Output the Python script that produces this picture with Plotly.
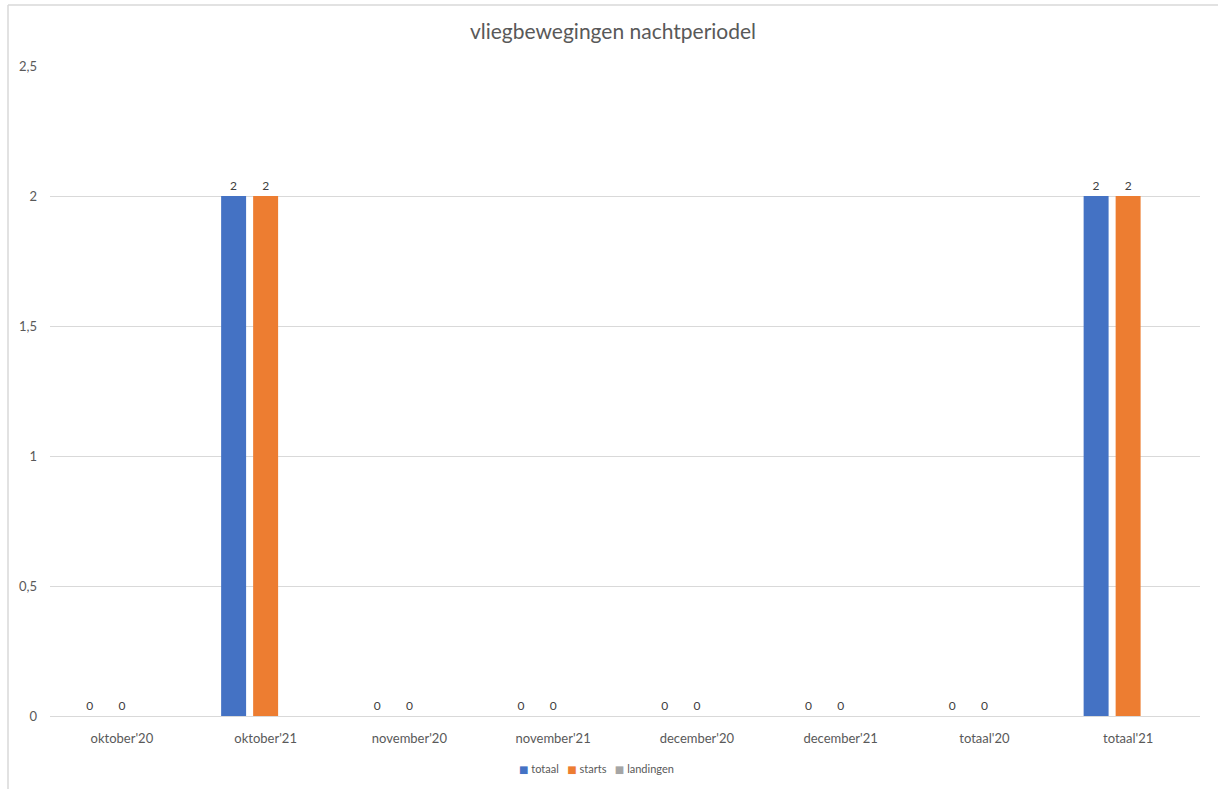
import plotly.graph_objects as go

categories = ["oktober'20", "oktober'21", "november'20", "november'21",
              "december'20", "december'21", "totaal'20", "totaal'21"]
totaal = [0, 2, 0, 0, 0, 0, 0, 2]
starts = [0, 2, 0, 0, 0, 0, 0, 2]
landingen = [None, None, None, None, None, None, None, None]
series_names = ["totaal", "starts", "landingen"]
series_colors = ["#4472C4", "#ED7D31", "#A5A5A5"]
y_ticks = [0, 0.5, 1, 1.5, 2, 2.5]

W, H = 1218, 789
L, R, T, B = 50, 18, 66, 73
pw, ph = W - L - R, H - T - B

FONT = "Lato, 'Open Sans', sans-serif"
GRAY = "#595959"

fig = go.Figure()
for name, vals, col in zip(series_names, [totaal, starts, landingen], series_colors):
    fig.add_trace(go.Bar(
        x=categories, y=vals, name=name, marker_color=col,
        marker_line_width=0, showlegend=False,
        text=[("" if v is None else str(v)) for v in vals],
        textposition="outside", cliponaxis=False,
        textfont=dict(family=FONT, size=12, color="#404040"),
    ))

def px2x(p):
    return (p - L) / pw

def py2y(p):
    return (H - B - p) / ph

legend_text = "   ".join(
    f"<span style='color:{c}; font-family:DejaVu Sans; font-size:10px'>■</span> {n}"
    for n, c in zip(series_names, series_colors))

fig.update_layout(
    width=W, height=H,
    margin=dict(l=L, r=R, t=T, b=B, autoexpand=False),
    paper_bgcolor="white", plot_bgcolor="white",
    separators=", ",
    barmode="group", bargap=0.332, bargroupgap=0.22,
    title=dict(text="vliegbewegingen nachtperiodel", x=613 / W,
               xanchor="center", y=1 - 32 / H, yanchor="middle",
               font=dict(family=FONT, size=21, color=GRAY)),
    font=dict(family=FONT, size=12, color=GRAY),
    showlegend=False,
    annotations=[dict(text=legend_text, xref="paper", yref="paper",
                      x=px2x(596), y=py2y(768), xanchor="center",
                      yanchor="middle", showarrow=False,
                      font=dict(family=FONT, size=11, color=GRAY))],
    xaxis=dict(showgrid=False, showline=True, linecolor="#d9d9d9", linewidth=1,
               ticks="", tickfont=dict(family=FONT, size=13, color=GRAY),
               ticklabelstandoff=10, automargin=False),
    yaxis=dict(range=[0, 2.5], tickvals=y_ticks, showgrid=True,
               gridcolor="#d9d9d9", gridwidth=1, zeroline=False,
               showline=False, ticks="", automargin=False,
               tickfont=dict(family=FONT, size=13, color=GRAY),
               ticklabelstandoff=12),
    shapes=[
        dict(type="line", xref="paper", yref="paper",
             x0=px2x(8), x1=px2x(8), y0=py2y(800), y1=py2y(5),
             line=dict(color="#d9d9d9", width=1.5)),
        dict(type="line", xref="paper", yref="paper",
             x0=px2x(8), x1=px2x(1230), y0=py2y(5), y1=py2y(5),
             line=dict(color="#d9d9d9", width=1.5)),
    ],
)

fig.write_html("out.html", config={"displayModeBar": False},
               post_script="document.body.style.margin='0';"
                           "document.body.style.overflow='hidden';")
